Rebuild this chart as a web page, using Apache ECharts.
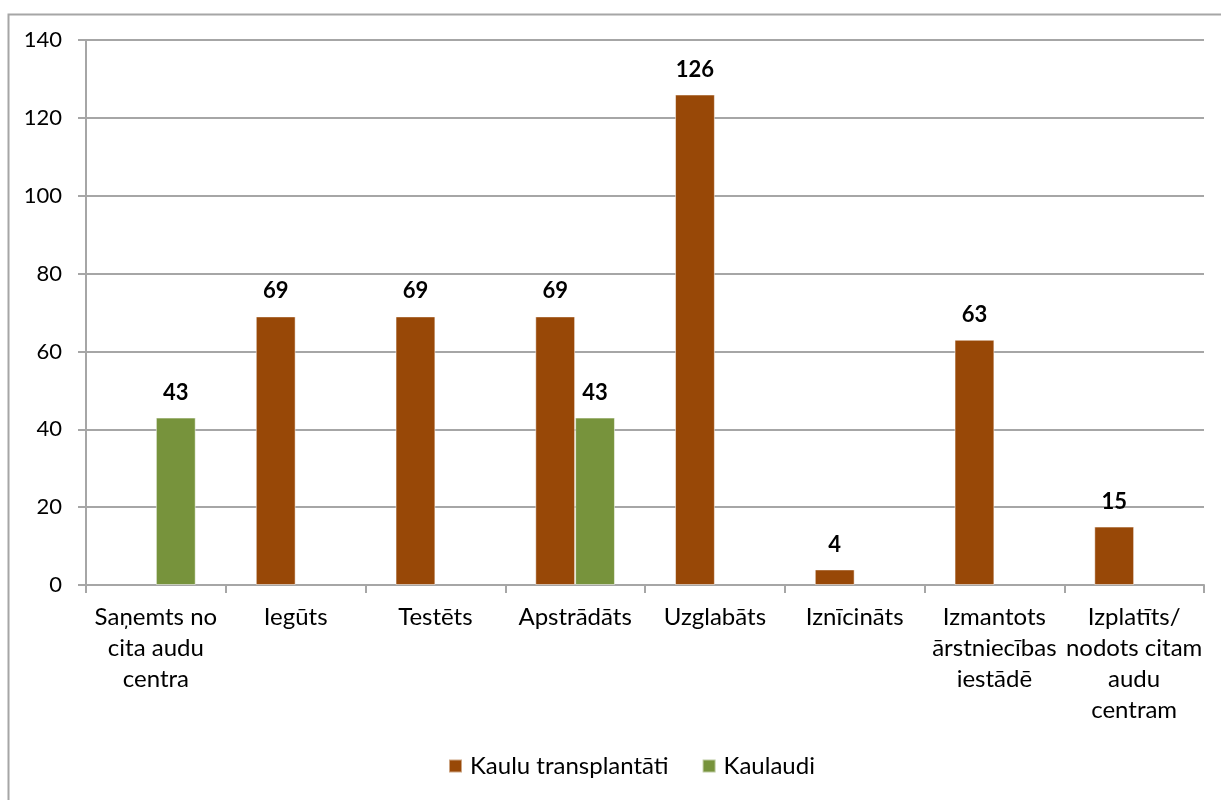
<!DOCTYPE html>
<html>
<head>
<meta charset="utf-8">
<script src="https://cdn.jsdelivr.net/npm/echarts@6/dist/echarts.min.js"></script>
<style>
html,body{margin:0;padding:0;background:#fff;}
#chart{width:1221px;height:800px;}
</style>
</head>
<body>
<div id="chart"></div>
<script>
const categories = [
  "Saņemts no\ncita audu\ncentra",
  "Iegūts",
  "Testēts",
  "Apstrādāts",
  "Uzglabāts",
  "Iznīcināts",
  "Izmantots\nārstniecības\niestādē",
  "Izplatīts/\nnodots citam\naudu\ncentram"
];
const seriesNames = ["Kaulu transplantāti", "Kaulaudi"];
const transplantati = [null, 69, 69, 69, 126, 4, 63, 15];
const kaulaudi = [43, null, null, 43, null, null, null, null];
const yTicks = { min: 0, max: 140, interval: 20 };

const font = "Lato, 'Open Sans', sans-serif";
const chart = echarts.init(document.getElementById('chart'), null, { renderer: 'canvas' });
const labelStyle = {
  show: true, position: 'top', distance: 14,
  fontFamily: font, fontSize: 22, fontWeight: 'bold', color: '#000'
};
chart.setOption({
  animation: false,
  backgroundColor: '#fff',
  graphic: [{
    type: 'rect', left: 6, top: 12,
    shape: { width: 1400, height: 1000 },
    style: { fill: 'none', stroke: '#a6a6a6', lineWidth: 2 },
    silent: true
  }],
  grid: { left: 86, right: 17, top: 40, bottom: 215, containLabel: false },
  legend: {
    data: seriesNames,
    bottom: 17, left: 443,
    itemWidth: 13, itemHeight: 13, itemGap: 33,
    icon: 'rect',
    textStyle: { fontFamily: font, fontSize: 24, color: '#000', padding: [0, 0, 0, 3] }
  },
  xAxis: {
    type: 'category',
    data: categories,
    axisLine: { lineStyle: { color: '#a6a6a6', width: 2 } },
    axisTick: { show: true, length: 8, lineStyle: { color: '#a6a6a6', width: 2 } },
    axisLabel: { fontFamily: font, fontSize: 24, color: '#000', margin: 17, lineHeight: 31, interval: 0 }
  },
  yAxis: {
    type: 'value',
    min: yTicks.min, max: yTicks.max, interval: yTicks.interval,
    axisLine: { show: true, lineStyle: { color: '#a6a6a6', width: 2 } },
    axisTick: { show: true, length: 8, lineStyle: { color: '#a6a6a6', width: 2 } },
    splitLine: { lineStyle: { color: '#a6a6a6', width: 2 } },
    axisLabel: { fontFamily: font, fontSize: 22, color: '#000', margin: 24 }
  },
  series: [
    {
      name: seriesNames[0], type: 'bar', data: transplantati,
      barGap: '0%', barCategoryGap: '43%',
      itemStyle: { color: '#984807', borderColor: 'rgba(255,255,255,0.5)', borderWidth: 1 },
      label: labelStyle
    },
    {
      name: seriesNames[1], type: 'bar', data: kaulaudi,
      barGap: '0%', barCategoryGap: '43%',
      itemStyle: { color: '#77933c', borderColor: 'rgba(255,255,255,0.5)', borderWidth: 1 },
      label: labelStyle
    }
  ]
});
</script>
</body>
</html>
